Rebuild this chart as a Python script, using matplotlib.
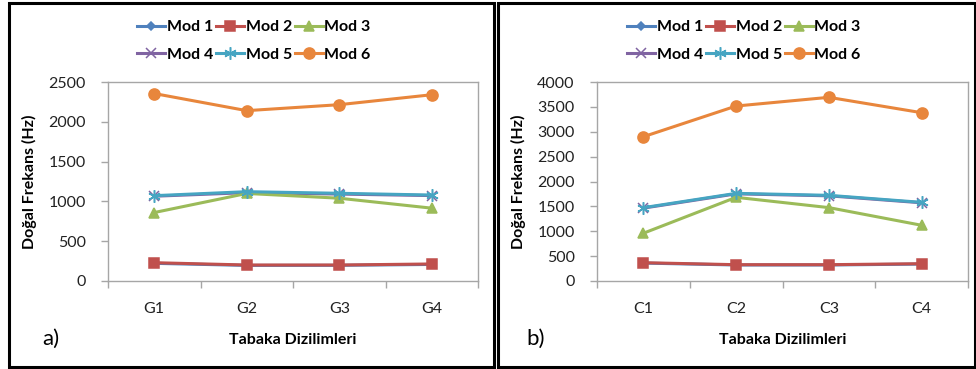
import matplotlib
matplotlib.use("Agg")
import matplotlib.pyplot as plt
from matplotlib.patches import Rectangle
from matplotlib.ticker import FixedLocator, MultipleLocator

plt.rcParams['font.family'] = ['Lato', 'DejaVu Sans']

# ---- data ----
cats_a = ["G1", "G2", "G3", "G4"]
cats_b = ["C1", "C2", "C3", "C4"]
series_names = ["Mod 1", "Mod 2", "Mod 3", "Mod 4", "Mod 5", "Mod 6"]

mod1_a = [222, 196, 197, 208]
mod2_a = [230, 201, 201, 214]
mod3_a = [860, 1100, 1040, 915]
mod4_a = [1065, 1110, 1092, 1073]
mod5_a = [1072, 1122, 1102, 1080]
mod6_a = [2355, 2140, 2215, 2340]

mod1_b = [360, 322, 322, 340]
mod2_b = [368, 328, 328, 348]
mod3_b = [960, 1682, 1475, 1120]
mod4_b = [1465, 1752, 1712, 1572]
mod5_b = [1474, 1762, 1722, 1581]
mod6_b = [2900, 3517, 3692, 3383]

ylim_a = (0, 2500)
ylim_b = (0, 4000)
ystep = 500

colors = ["#4F81BD", "#C0504D", "#9BBB59", "#8064A2", "#46A5C2", "#E8863C"]
markers = ["D", "s", "^", "x", (6, 2, 0), "o"]
msizes = [4, 7, 7, 7, 9, 8]

W, H = 976, 369
fig = plt.figure(figsize=(W / 100, H / 100), dpi=100)


def px(x0, y0, w, h):
    return [x0 / W, 1 - (y0 + h) / H, w / W, h / H]


# panel frames
for (x0, x1) in [(9, 494), (498, 975)]:
    fig.patches.append(Rectangle((x0 / W, 2 / H), (x1 - x0) / W, (366 - 2) / H,
                                 transform=fig.transFigure, fill=False,
                                 edgecolor="black", linewidth=2.2))


def panel(rect, cats, data, ylim, letter, letter_x, leg_cx):
    ax = fig.add_axes(px(*rect))
    x = [1, 2, 3, 4]
    handles = []
    for i, ys in enumerate(data):
        h, = ax.plot(x, ys, color=colors[i], lw=2.2, marker=markers[i],
                     markersize=msizes[i], markerfacecolor=colors[i],
                     markeredgecolor=colors[i], markeredgewidth=1.1,
                     label=series_names[i], zorder=3 + (i if i != 3 else 0))
        handles.append(h)
    ax.set_xlim(0.5, 4.5)
    ax.set_ylim(*ylim)
    ax.yaxis.set_major_locator(MultipleLocator(ystep))
    ax.xaxis.set_major_locator(FixedLocator(x))
    ax.set_xticklabels(cats)
    ax.xaxis.set_minor_locator(FixedLocator([0.5, 1.5, 2.5, 3.5, 4.5]))
    ax.tick_params(axis="x", which="major", length=0, pad=15, labelsize=11.5,
                   labelcolor="#222222")
    ax.tick_params(axis="x", which="minor", length=5, width=1, color="#A6A6A6",
                   direction="out")
    ax.tick_params(axis="y", length=5, width=1, color="#A6A6A6", pad=11,
                   labelsize=11.5, labelcolor="#222222")
    for s in ax.spines.values():
        s.set_color("#A6A6A6")
        s.set_linewidth(1.0)
    ax.set_ylabel("Doğal Frekans (Hz)", fontsize=11.5, fontweight="bold", labelpad=8)
    ax.set_xlabel("Tabaka Dizilimleri", fontsize=11.5, fontweight="bold", labelpad=12)
    fig.text(letter_x / W, 1 - 339 / H, letter, fontsize=16, ha="left", va="center")
    order = [0, 3, 1, 4, 2, 5]
    fig.legend([handles[k] for k in order], [series_names[k] for k in order],
               ncol=3, loc="center", bbox_to_anchor=(leg_cx / W, 1 - 41 / H),
               frameon=False, prop={"weight": "bold", "size": 11.5},
               handlelength=1.75, handletextpad=0.12, columnspacing=0.15,
               labelspacing=0.85, borderaxespad=0)
    return ax


data_a = [mod1_a, mod2_a, mod3_a, mod4_a, mod5_a, mod6_a]
data_b = [mod1_b, mod2_b, mod3_b, mod4_b, mod5_b, mod6_b]

panel((108, 82, 370, 199), cats_a, data_a, ylim_a, "a)", 42, 254)
panel((597, 82, 371, 199), cats_b, data_b, ylim_b, "b)", 526, 744)

fig.savefig("out.png", dpi=100, facecolor="white")
